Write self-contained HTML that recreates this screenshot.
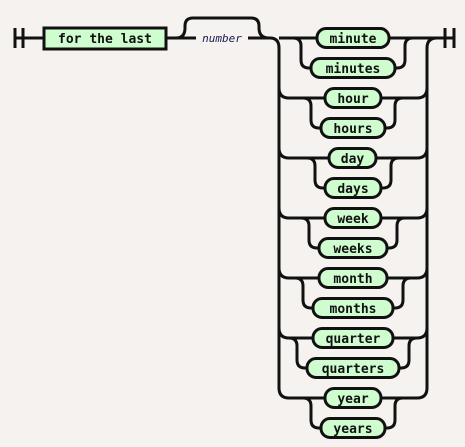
<!DOCTYPE html>
<html><head><meta charset="utf-8"><style>
html,body{margin:0;padding:0;background:#f5f2ef;}
svg{display:block}
text{font-family:"DejaVu Sans Mono","Liberation Mono",monospace;font-size:13px;font-weight:bold;fill:#111;}
</style></head><body>
<svg width="465" height="447" viewBox="0 0 465 447" xmlns="http://www.w3.org/2000/svg">
<g fill="none" stroke="#111" stroke-width="3">
<path d="M15 28V48M23 28V48M15 38H44"/>
<path d="M166 38H196M248 38H270Q279 38 279 48V388Q279 398 289 398"/>
<path d="M176 38Q185 38 185 28V26Q185 18 193 18H251Q259 18 259 26V28Q259 38 269 38"/>
<path d="M417 398Q427 398 427 388V48Q427 38 437 38H454M445 28V48M454 28V48"/>
<path d="M279 38H317M389 38H437"/>
<path d="M279 88Q279 98 289 98H325M381 98H417Q427 98 427 88"/>
<path d="M279 148Q279 158 289 158H329M376 158H417Q427 158 427 148"/>
<path d="M279 208Q279 218 289 218H325M381 218H417Q427 218 427 208"/>
<path d="M279 268Q279 278 289 278H319M387 278H417Q427 278 427 268"/>
<path d="M279 328Q279 338 289 338H313M393 338H417Q427 338 427 328"/>
<path d="M289 398H325M381 398H417"/>
<path d="M293 38Q301 38 301 46V60Q301 68 309 68H311M395 68H397Q405 68 405 60V46Q405 38 413 38"/>
<path d="M303 98Q311 98 311 106V120Q311 128 319 128H321M385 128H387Q395 128 395 120V106Q395 98 403 98"/>
<path d="M307 158Q315 158 315 166V180Q315 188 323 188H325M381 188H383Q391 188 391 180V166Q391 158 399 158"/>
<path d="M301 218Q309 218 309 226V240Q309 248 317 248H319M387 248H389Q397 248 397 240V226Q397 218 405 218"/>
<path d="M295 278Q303 278 303 286V300Q303 308 311 308H313M393 308H395Q403 308 403 300V286Q403 278 411 278"/>
<path d="M289 338Q297 338 297 346V360Q297 368 305 368H307M399 368H401Q409 368 409 360V346Q409 338 417 338"/>
<path d="M303 398Q311 398 311 406V420Q311 428 319 428H321M385 428H387Q395 428 395 420V406Q395 398 403 398"/>
</g>
<g fill="#d0fdd0" stroke="#111" stroke-width="3">
<rect x="44" y="28" width="122" height="21"/>
<rect x="317" y="28.5" width="72" height="19" rx="9"/>
<rect x="311" y="58.5" width="84" height="19" rx="9"/>
<rect x="325" y="88.5" width="56" height="19" rx="9"/>
<rect x="321" y="118.5" width="64" height="19" rx="9"/>
<rect x="329" y="148.5" width="47" height="19" rx="9"/>
<rect x="325" y="178.5" width="56" height="19" rx="9"/>
<rect x="325" y="208.5" width="56" height="19" rx="9"/>
<rect x="319" y="238.5" width="68" height="19" rx="9"/>
<rect x="319" y="268.5" width="68" height="19" rx="9"/>
<rect x="313" y="298.5" width="80" height="19" rx="9"/>
<rect x="313" y="328.5" width="80" height="19" rx="9"/>
<rect x="307" y="358.5" width="92" height="19" rx="9"/>
<rect x="325" y="388.5" width="56" height="19" rx="9"/>
<rect x="321" y="418.5" width="64" height="19" rx="9"/>
</g>
<g text-anchor="middle">
<text x="105" y="43">for the last</text>
<text x="353" y="43">minute</text>
<text x="353" y="73">minutes</text>
<text x="353" y="103">hour</text>
<text x="353" y="133">hours</text>
<text x="352.5" y="163">day</text>
<text x="353" y="193">days</text>
<text x="353" y="223">week</text>
<text x="353" y="253">weeks</text>
<text x="353" y="283">month</text>
<text x="353" y="313">months</text>
<text x="353" y="343">quarter</text>
<text x="353" y="373">quarters</text>
<text x="353" y="403">year</text>
<text x="353" y="433">years</text>
<text x="222" y="42" style="font-size:11px;font-style:italic;font-weight:normal;fill:#1a1a50">number</text>
</g>
</svg>
</body></html>
